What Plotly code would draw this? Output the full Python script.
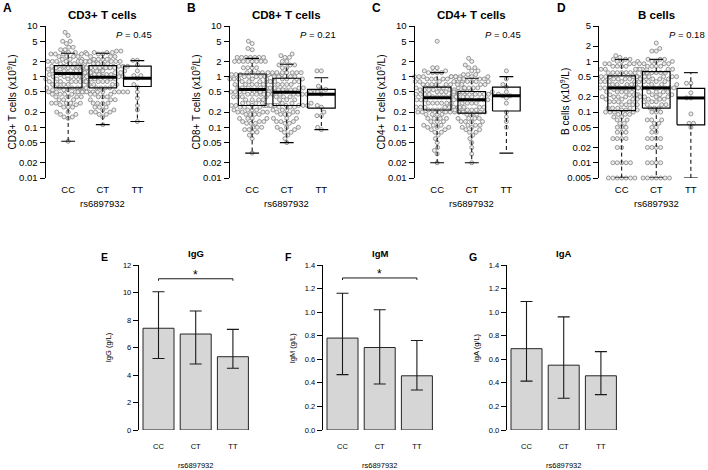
import numpy as np
import plotly.graph_objects as go

W, H = 708, 470
FONT = "Arial, 'Liberation Sans', Helvetica, sans-serif"

GENOTYPES = ["CC", "CT", "TT"]
SNP_LABEL = "rs6897932"

# ---------------- top row: box plots with beeswarm points ----------------
TOP_LETTERS = ["A", "B", "C", "D"]
TOP_TITLES = ["CD3+ T cells", "CD8+ T cells", "CD4+ T cells", "B cells"]
TOP_YTITLES = ["CD3+ T cells (x10<sup>9</sup>/L)", "CD8+ T cells (x10<sup>9</sup>/L)",
               "CD4+ T cells (x10<sup>9</sup>/L)", "B cells (x10<sup>9</sup>/L)"]
TOP_PVALUES = ["0.45", "0.21", "0.45", "0.18"]
TICKS_T = [0.01, 0.02, 0.05, 0.1, 0.2, 0.5, 1, 2, 5, 10]
TICKS_BCELL = [0.005, 0.01, 0.02, 0.05, 0.1, 0.2, 0.5, 1, 2, 5]

# [lower whisker, Q1, median, Q3, upper whisker]
CD3_CC_BOX = [0.053, 0.60, 1.15, 1.65, 2.9]
CD3_CT_BOX = [0.113, 0.60, 0.97, 1.65, 2.9]
CD3_TT_BOX = [0.13, 0.64, 0.93, 1.62, 2.07]
CD8_CC_BOX = [0.031, 0.27, 0.56, 1.13, 2.3]
CD8_CT_BOX = [0.05, 0.27, 0.49, 0.93, 1.76]
CD8_TT_BOX = [0.09, 0.24, 0.45, 0.56, 0.95]
CD4_CC_BOX = [0.02, 0.22, 0.385, 0.62, 1.2]
CD4_CT_BOX = [0.02, 0.19, 0.35, 0.51, 0.93]
CD4_TT_BOX = [0.031, 0.21, 0.42, 0.62, 1.0]
BC_CC_BOX = [0.005, 0.107, 0.30, 0.52, 1.1]
BC_CT_BOX = [0.005, 0.12, 0.30, 0.63, 1.1]
BC_TT_BOX = [0.005, 0.056, 0.19, 0.295, 0.6]

# individual values as (value, number of subjects)
CD3_CC_PTS = [(7.5, 1), (6.5, 1), (5, 2), (4.5, 1), (3.8, 2), (3.4, 2), (3.0, 3), (2.8, 4), (2.5, 4),
              (2.2, 4), (2.0, 9), (1.8, 5), (1.6, 6), (1.5, 10), (1.4, 5), (1.3, 5), (1.2, 5), (1.1, 6),
              (1.0, 7), (0.9, 6), (0.8, 6), (0.7, 6), (0.6, 6), (0.55, 4), (0.5, 10), (0.45, 4), (0.4, 4),
              (0.35, 3), (0.3, 5), (0.28, 2), (0.25, 3), (0.2, 2), (0.18, 2), (0.16, 2), (0.15, 1), (0.053, 1)]
CD3_CT_PTS = [(3.2, 2), (3.0, 3), (2.8, 3), (2.5, 3), (2.2, 4), (2.0, 6), (1.8, 4), (1.6, 5), (1.5, 7),
              (1.3, 4), (1.2, 4), (1.1, 4), (1.0, 5), (0.9, 4), (0.8, 4), (0.7, 4), (0.6, 4), (0.5, 8),
              (0.45, 3), (0.4, 3), (0.35, 3), (0.3, 4), (0.25, 3), (0.22, 2), (0.2, 3), (0.18, 2), (0.16, 1),
              (0.113, 1)]
CD3_TT_PTS = [(2.1, 2), (1.7, 1), (1.3, 1), (1.05, 2), (0.93, 1), (0.7, 1), (0.62, 1), (0.5, 1),
              (0.38, 1), (0.27, 1), (0.22, 1), (0.13, 1)]

CD8_CC_PTS = [(5.0, 1), (4.5, 1), (3.6, 1), (3.4, 1), (2.4, 7), (2.0, 8), (1.5, 4), (1.2, 6), (1.1, 10),
              (1.0, 5), (0.9, 5), (0.8, 5), (0.7, 5), (0.6, 5), (0.55, 5), (0.5, 10), (0.45, 4), (0.4, 4),
              (0.35, 4), (0.3, 4), (0.27, 9), (0.25, 3), (0.22, 4), (0.2, 4), (0.18, 4), (0.15, 4),
              (0.13, 3), (0.12, 3), (0.1, 3), (0.09, 2), (0.08, 2), (0.07, 1), (0.06, 1), (0.031, 1)]
CD8_CT_PTS = [(2.8, 1), (2.6, 1), (2.4, 2), (2.0, 2), (1.7, 3), (1.5, 2), (1.2, 8), (1.0, 4), (0.9, 4),
              (0.8, 4), (0.7, 4), (0.6, 4), (0.55, 4), (0.5, 4), (0.45, 8), (0.4, 3), (0.35, 3), (0.3, 4),
              (0.27, 7), (0.25, 3), (0.22, 3), (0.2, 3), (0.18, 3), (0.15, 3), (0.13, 3), (0.12, 2),
              (0.1, 3), (0.09, 2), (0.08, 2), (0.07, 1), (0.06, 1), (0.05, 1)]
CD8_TT_PTS = [(1.3, 2), (0.65, 1), (0.56, 2), (0.5, 1), (0.45, 1), (0.27, 1), (0.25, 1), (0.2, 1),
              (0.17, 2), (0.1, 1), (0.09, 1)]

CD4_CC_PTS = [(5.0, 1), (1.5, 2), (1.3, 2), (1.2, 4), (1.0, 6), (0.9, 5), (0.8, 6), (0.7, 6), (0.6, 7),
              (0.55, 6), (0.5, 7), (0.45, 6), (0.4, 7), (0.35, 7), (0.3, 6), (0.25, 7), (0.22, 6),
              (0.2, 7), (0.18, 4), (0.15, 4), (0.13, 3), (0.11, 3), (0.1, 3), (0.09, 2), (0.08, 2),
              (0.07, 1), (0.06, 1), (0.05, 1), (0.04, 1), (0.035, 1), (0.03, 1), (0.02, 1)]
CD4_CT_PTS = [(2.3, 1), (2.0, 1), (1.7, 1), (1.5, 2), (1.3, 2), (1.1, 3), (1.0, 4), (0.9, 4), (0.8, 4),
              (0.7, 4), (0.6, 4), (0.5, 6), (0.45, 4), (0.4, 4), (0.35, 4), (0.3, 4), (0.25, 4), (0.22, 4),
              (0.2, 4), (0.18, 3), (0.15, 4), (0.13, 4), (0.11, 3), (0.1, 2), (0.09, 2), (0.08, 2),
              (0.07, 1), (0.06, 1), (0.05, 1), (0.04, 1), (0.03, 1), (0.02, 1)]
CD4_TT_PTS = [(1.3, 1), (0.9, 1), (0.7, 1), (0.62, 1), (0.5, 1), (0.45, 1), (0.42, 2), (0.38, 1),
              (0.3, 1), (0.2, 1), (0.16, 1), (0.13, 1), (0.1, 1)]

BC_CC_PTS = [(1.3, 1), (1.2, 1), (1.1, 3), (1.0, 3), (0.9, 4), (0.8, 4), (0.7, 6), (0.6, 7), (0.5, 8),
             (0.45, 4), (0.4, 6), (0.35, 4), (0.3, 9), (0.28, 3), (0.25, 4), (0.22, 4), (0.2, 4),
             (0.18, 4), (0.16, 4), (0.14, 4), (0.12, 4), (0.11, 3), (0.1, 4), (0.09, 3), (0.08, 2),
             (0.07, 2), (0.06, 2), (0.05, 3), (0.04, 3), (0.03, 4), (0.02, 2), (0.01, 5), (0.005, 7)]
BC_CT_PTS = [(2.3, 1), (1.8, 1), (1.6, 2), (1.1, 3), (1.0, 3), (0.9, 4), (0.8, 4), (0.7, 4), (0.6, 6),
             (0.5, 6), (0.45, 4), (0.4, 4), (0.35, 4), (0.3, 8), (0.25, 4), (0.22, 4), (0.2, 4),
             (0.18, 3), (0.16, 3), (0.14, 3), (0.12, 3), (0.1, 3), (0.07, 3), (0.06, 2), (0.05, 2),
             (0.04, 2), (0.03, 4), (0.02, 4), (0.01, 4), (0.005, 7)]
BC_TT_PTS = [(0.37, 2), (0.24, 1), (0.19, 2), (0.092, 1), (0.06, 2), (0.05, 1)]

TOP_PANELS = [
    ([CD3_CC_BOX, CD3_CT_BOX, CD3_TT_BOX], [CD3_CC_PTS, CD3_CT_PTS, CD3_TT_PTS], TICKS_T),
    ([CD8_CC_BOX, CD8_CT_BOX, CD8_TT_BOX], [CD8_CC_PTS, CD8_CT_PTS, CD8_TT_PTS], TICKS_T),
    ([CD4_CC_BOX, CD4_CT_BOX, CD4_TT_BOX], [CD4_CC_PTS, CD4_CT_PTS, CD4_TT_PTS], TICKS_T),
    ([BC_CC_BOX, BC_CT_BOX, BC_TT_BOX], [BC_CC_PTS, BC_CT_PTS, BC_TT_PTS], TICKS_BCELL),
]

# ---------------- bottom row: bar charts (mean with error bars) ----------------
BOT_LETTERS = ["E", "F", "G"]
BOT_TITLES = ["IgG", "IgM", "IgA"]
BOT_YTITLES = ["IgG (g/L)", "IgM (g/L)", "IgA (g/L)"]
IGG_MEAN = [7.40, 6.98, 5.33]
IGG_UPPER = [10.05, 8.65, 7.32]
IGG_LOWER = [5.20, 4.80, 4.49]
IGM_MEAN = [0.78, 0.70, 0.46]
IGM_UPPER = [1.16, 1.02, 0.76]
IGM_LOWER = [0.47, 0.39, 0.34]
IGA_MEAN = [0.69, 0.55, 0.46]
IGA_UPPER = [1.09, 0.96, 0.665]
IGA_LOWER = [0.415, 0.27, 0.30]
IGG_TICKS = [0, 2, 4, 6, 8, 10, 12]
IGM_TICKS = [0.0, 0.2, 0.4, 0.6, 0.8, 1.0, 1.2, 1.4]
IGA_TICKS = [0.0, 0.2, 0.4, 0.6, 0.8, 1.0, 1.2, 1.4]
# significance brackets: (first group, second group, bracket level) or None
IGG_SIG = (0, 2, 11.0)
IGM_SIG = (0, 2, 1.29)
IGA_SIG = None

BOT_PANELS = [
    (IGG_MEAN, IGG_UPPER, IGG_LOWER, IGG_TICKS, "{:g}", IGG_SIG),
    (IGM_MEAN, IGM_UPPER, IGM_LOWER, IGM_TICKS, "{:.1f}", IGM_SIG),
    (IGA_MEAN, IGA_UPPER, IGA_LOWER, IGA_TICKS, "{:.1f}", IGA_SIG),
]

# ---------------- geometry (pixels) ----------------
TOP_AXIS_PX = [45.5, 229.5, 414.5, 599.0]
TOP_UNIT = 34.6          # px per group
TOP_XR = (0.345, 3.62)
TOP_YPX = (26.0, 178.0)
BOT_X0_PX = [136.8, 320.8, 504.8]
BOT_UNIT = 31.0
BOT_XR = (0.064, 3.736)
BOT_YPX = (265.0, 430.0)

PT_DIAM = 4.4


def fx(px):
    return px / W


def fy(py):
    return 1 - py / H


def swarm_offsets(ypx, d):
    px_list, py_list, out = [], [], []
    for y in ypx:
        near = [(a, b) for a, b in zip(px_list, py_list) if abs(b - y) < d]
        cands = [0.0]
        for a, b in near:
            dx = np.sqrt(d * d - (b - y) ** 2)
            cands += [a - dx, a + dx]
        cands.sort(key=lambda c: (abs(c), c))
        chosen = 0.0
        for c in cands:
            if all((c - a) ** 2 + (y - b) ** 2 >= d * d - 1e-6 for a, b in near):
                chosen = c
                break
        px_list.append(chosen)
        py_list.append(y)
        out.append(chosen)
    return out


def note(text, xpx, ypx, size, bold=False, angle=0):
    return dict(text=f"<b>{text}</b>" if bold else text, x=fx(xpx), y=fy(ypx),
                xref="paper", yref="paper", xanchor="center", yanchor="middle",
                textangle=angle, showarrow=False,
                font=dict(family=FONT, size=size, color="black"))


fig = go.Figure()
annotations = []
layout = {}

axis_font = dict(family=FONT, size=9.5, color="black")

for i, (boxes, pts, ticks) in enumerate(TOP_PANELS):
    n = i + 1
    xa = f"x{n}" if n > 1 else "x"
    ya = f"y{n}" if n > 1 else "y"
    left = TOP_AXIS_PX[i]
    right = left + (TOP_XR[1] - TOP_XR[0]) * TOP_UNIT
    xr_hi = TOP_XR[1]
    if right > W:
        xr_hi = TOP_XR[0] + (W - left) / TOP_UNIT
        right = W
    ylo, yhi = np.log10(ticks[0]), np.log10(ticks[-1])
    ppd = (TOP_YPX[1] - TOP_YPX[0]) / (yhi - ylo)

    # beeswarm points
    xs, ys = [], []
    for g, grp in enumerate(pts):
        vals = sorted(v for v, c in grp for _ in range(c))
        ypx = [np.log10(v) * ppd for v in vals]
        offs = swarm_offsets(ypx, PT_DIAM)
        xs += [g + 1 + o / TOP_UNIT for o in offs]
        ys += vals
    fig.add_trace(go.Scatter(x=xs, y=ys, mode="markers", xaxis=xa, yaxis=ya, cliponaxis=False,
                             marker=dict(size=4.0, color="#ededed", line=dict(color="#808080", width=0.8)),
                             hoverinfo="skip", showlegend=False))
    # whiskers (dashed), caps, boxes, medians
    wx, wy, cx, cy, bx, by, mx, my = [], [], [], [], [], [], [], []
    for g, b in enumerate(boxes):
        c = g + 1
        lo, q1, med, q3, hi = b
        wx += [c, c, None, c, c, None]
        wy += [q3, hi, None, q1, lo, None]
        cx += [c - 0.2, c + 0.2, None, c - 0.2, c + 0.2, None]
        cy += [hi, hi, None, lo, lo, None]
        bx += [c - 0.4, c + 0.4, c + 0.4, c - 0.4, c - 0.4, None]
        by += [q1, q1, q3, q3, q1, None]
        mx += [c - 0.4, c + 0.4, None]
        my += [med, med, None]
    common = dict(mode="lines", xaxis=xa, yaxis=ya, cliponaxis=False, hoverinfo="skip", showlegend=False)
    fig.add_trace(go.Scatter(x=wx, y=wy, line=dict(color="black", width=1, dash="4px,3px"), **common))
    fig.add_trace(go.Scatter(x=cx, y=cy, line=dict(color="black", width=1.1), **common))
    fig.add_trace(go.Scatter(x=bx, y=by, line=dict(color="black", width=1.2), **common))
    fig.add_trace(go.Scatter(x=mx, y=my, line=dict(color="black", width=3), **common))

    xkey = "xaxis" if n == 1 else f"xaxis{n}"
    ykey = "yaxis" if n == 1 else f"yaxis{n}"
    layout[xkey] = dict(domain=[fx(left), fx(right)], range=[TOP_XR[0], xr_hi], anchor=ya,
                        tickvals=[1, 2, 3], ticktext=GENOTYPES, ticks="", showline=False,
                        showgrid=False, zeroline=False, tickfont=axis_font, ticklabelstandoff=4)
    layout[ykey] = dict(domain=[fy(TOP_YPX[1]), fy(TOP_YPX[0])], type="log", range=[ylo, yhi],
                        anchor=xa, tickvals=ticks, ticktext=[f"{t:g}" for t in ticks],
                        ticks="outside", ticklen=5, tickwidth=1, tickcolor="black",
                        showline=True, linecolor="black", linewidth=1, showgrid=False,
                        zeroline=False, tickfont=axis_font)
    center_px = left + (2 - TOP_XR[0]) * TOP_UNIT
    annotations += [
        note(TOP_LETTERS[i], left - 38, 8, 12, bold=True),
        note(TOP_TITLES[i], center_px, 15, 11.5, bold=True),
        dict(text=f"<i>P</i> = {TOP_PVALUES[i]}", x=3.48, y=fy(34), xref=xa, yref="paper",
             xanchor="right", yanchor="middle", showarrow=False,
             font=dict(family=FONT, size=9.5, color="black")),
        note(TOP_YTITLES[i], left - 34, 102, 10, angle=-90),
        note(SNP_LABEL, center_px, 204, 9.5),
    ]

small_font = dict(family=FONT, size=7.5, color="black")
for j, (mean, upper, lower, ticks, fmt, sig) in enumerate(BOT_PANELS):
    n = 5 + j
    xa, ya = f"x{n}", f"y{n}"
    x0 = BOT_X0_PX[j]
    left = x0 + BOT_XR[0] * BOT_UNIT
    right = x0 + BOT_XR[1] * BOT_UNIT
    pos = [0.2 + k * 1.2 + 0.5 for k in range(3)]
    fig.add_trace(go.Bar(x=pos, y=mean, width=1.0, xaxis=xa, yaxis=ya,
                         marker=dict(color="#d6d6d6", line=dict(color="#262626", width=1)),
                         error_y=dict(type="data", symmetric=False,
                                      array=[u - m for u, m in zip(upper, mean)],
                                      arrayminus=[m - l for m, l in zip(mean, lower)],
                                      color="#1a1a1a", thickness=1.1, width=6),
                         hoverinfo="skip", showlegend=False))
    ppu = (BOT_YPX[1] - BOT_YPX[0]) / (ticks[-1] - ticks[0])
    if sig is not None:
        a, b, lev = sig
        drop = 2.0 / ppu
        fig.add_trace(go.Scatter(x=[pos[a], pos[a], pos[b], pos[b]], y=[lev - drop, lev, lev, lev - drop],
                                 mode="lines", line=dict(color="#1a1a1a", width=1), xaxis=xa, yaxis=ya,
                                 cliponaxis=False, hoverinfo="skip", showlegend=False))
        annotations.append(dict(text="*", x=(pos[a] + pos[b]) / 2, y=lev, xref=xa, yref=ya,
                                xanchor="center", yanchor="bottom", yshift=-5, showarrow=False,
                                font=dict(family=FONT, size=12, color="black")))
    layout[f"xaxis{n}"] = dict(domain=[fx(left), fx(right)], range=list(BOT_XR), anchor=ya,
                               tickvals=pos, ticktext=GENOTYPES, ticks="", showline=False,
                               showgrid=False, zeroline=False, tickfont=small_font,
                               ticklabelstandoff=10)
    layout[f"yaxis{n}"] = dict(domain=[fy(BOT_YPX[1]), fy(BOT_YPX[0])], range=[ticks[0], ticks[-1]],
                               anchor=xa, tickvals=ticks, ticktext=[fmt.format(t) for t in ticks],
                               ticks="outside", ticklen=5, tickwidth=1, tickcolor="black",
                               showline=True, linecolor="black", linewidth=1, showgrid=False,
                               zeroline=False, tickfont=small_font)
    center_px = x0 + pos[1] * BOT_UNIT
    annotations += [
        note(BOT_LETTERS[j], left - 34, 257, 10.5, bold=True),
        note(BOT_TITLES[j], center_px, 253, 9.5, bold=True),
        note(BOT_YTITLES[j], left - 30, (BOT_YPX[0] + BOT_YPX[1]) / 2, 7.5, angle=-90),
        note(SNP_LABEL, center_px, 465, 7.5),
    ]

fig.update_layout(width=W, height=H, margin=dict(l=0, r=0, t=0, b=0, autoexpand=False),
                  paper_bgcolor="white", plot_bgcolor="white", annotations=annotations,
                  font=dict(family=FONT, color="black"), bargap=0, hovermode=False, **layout)
fig.write_html("out.html", config={"displayModeBar": False, "staticPlot": True},
               post_script="document.body.style.margin='0';document.body.style.padding='0';"
                           "document.body.style.overflow='hidden';")
